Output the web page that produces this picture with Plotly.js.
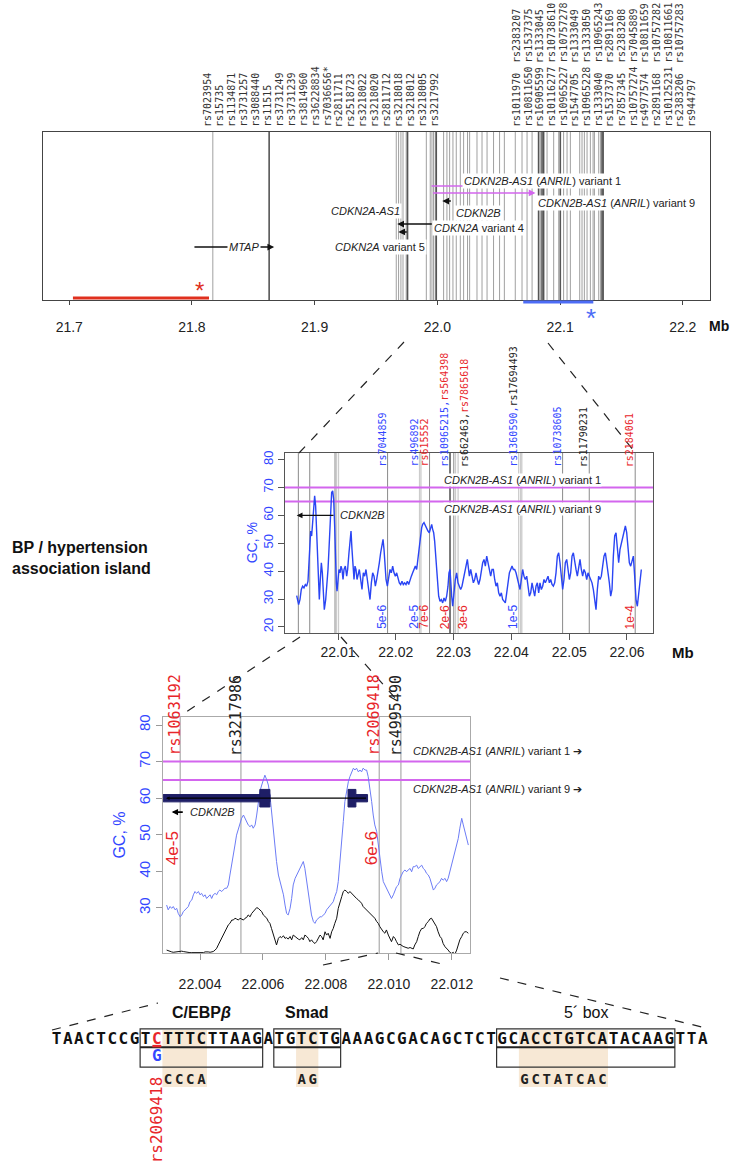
<!DOCTYPE html>
<html>
<head>
<meta charset="utf-8">
<script src="https://cdn.plot.ly/plotly-3.0.1.min.js"></script>
<style>
  html, body { margin: 0; padding: 0; background: #fff; }
  #plot { width: 733px; height: 1168px; }
</style>
</head>
<body>
<div id="plot"></div>
<script>
// ---------- data ----------
// top panel: SNP names (label list above the panel)
const topNamesLeft = ['rs7023954','rs15735','rs1134871','rs3731257','rs3088440','rs11515','rs3731249',
  'rs3731239','rs3814960','rs36228834','rs7036656*','rs2811711','rs2518723','rs3218022','rs3218020',
  'rs2811712','rs3218018','rs3218012','rs3218005','rs3217992'];
const topNamesRightLow = ['rs1011970','rs10811650','rs16905599','rs10116277','rs10965227','rs1547705',
  'rs10965228','rs1333040','rs1537370','rs7857345','rs10757274','rs4977574','rs2891168','rs10125231',
  'rs2383206','rs944797'];
const topNamesRightHigh = ['rs2383207','rs1537375','rs1333045','rs10738610','rs10757278','rs1333049',
  'rs1333050','rs10965243','rs2891169','rs2383208','rs7045889','rs10811659','rs10757282','rs10811661',
  'rs10757283'];

// top panel: SNP positions (Mb)
const topSnpThin = [21.8170, 21.9665, 21.9684, 21.9703, 21.9720, 21.9746, 21.9910, 21.9942, 21.9956,
  21.9969, 21.9983, 22.0051, 22.0078, 22.0100, 22.0127, 22.0154, 22.0187, 22.0214, 22.0246, 22.0263,
  22.0323, 22.0364, 22.0405, 22.0458, 22.0507, 22.0546, 22.0635, 22.0690, 22.0731, 22.0772, 22.0839,
  22.0894, 22.0948, 22.0989, 22.1029, 22.1057, 22.1084, 22.1160, 22.1179, 22.1198, 22.1220, 22.1247,
  22.1269, 22.1280, 22.1315, 22.1329];
const topSnpDark = [21.8629, 21.9757, 21.9991, 22.0825, 22.0853, 22.0866, 22.1002, 22.1342, 22.1351];

// top panel: genes
const geneStart  = [21.8008, 21.9673, 21.9682, 22.0040, 21.9952, 21.9952, 21.9640];
const geneEnd    = [21.8670, 21.9967, 21.9763, 22.0122, 22.0213, 22.0800, 21.9655];
const geneStrand = ['+', '-', '-', '-', '', '+', ''];
const geneRow    = [3.15, 4.52, 4.05, 5.89, 6.79, 6.37, 4.94];
const geneKind   = ['coding', 'coding', 'coding', 'coding', 'anril', 'anril', 'anril'];
const geneLabel  = ['<i>MTAP</i>', '<i>CDKN2A</i> variant 4', '<i>CDKN2A</i> variant 5', '<i>CDKN2B</i>',
  '<i>CDKN2B-AS1</i> (<i>ANRIL</i>) variant 1', '<i>CDKN2B-AS1</i> (<i>ANRIL</i>) variant 9', '<i>CDKN2A-AS1</i>'];
const geneLabelX = [21.8421, 22.0338, 21.9534, 22.0338, 22.0860, 22.1463, 21.9415];
const geneLabelY = [3.15, 4.29, 3.15, 5.18, 7.08, 5.77, 5.30];

// association regions
const redRegion  = [21.7030, 21.8139];
const blueRegion = [22.0700, 22.1271];

const topTicks = [21.7, 21.8, 21.9, 22.0, 22.1, 22.2];
const topTickText = ['21.7', '21.8', '21.9', '22.0', '22.1', '22.2'];

// middle panel: GC profile
const midX = [22.00285,22.00296,22.00319,22.00342,22.00365,22.00388,22.00411,22.00435,22.00458,22.00481,
  22.00498,22.00515,22.00527,22.00544,22.00562,22.00579,22.00596,22.00613,22.00631,22.00642,22.00660,
  22.00677,22.00694,22.00712,22.00729,22.00746,22.00763,22.00787,22.00810,22.00827,22.00844,22.00856,
  22.00873,22.00890,22.00908,22.00925,22.00942,22.00954,22.00971,22.00983,22.01000,22.01017,22.01035,
  22.01052,22.01069,22.01087,22.01104,22.01127,22.01150,22.01167,22.01190,22.01208,22.01225,22.01242,
  22.01260,22.01277,22.01294,22.01311,22.01329,22.01346,22.01369,22.01392,22.01415,22.01438,22.01461,
  22.01484,22.01508,22.01531,22.01554,22.01577,22.01600,22.01623,22.01646,22.01669,22.01692,22.01715,
  22.01738,22.01761,22.01779,22.01796,22.01813,22.01831,22.01854,22.01877,22.01900,22.01923,22.01946,
  22.01969,22.01992,22.02015,22.02038,22.02061,22.02084,22.02107,22.02130,22.02153,22.02176,22.02200,
  22.02223,22.02246,22.02269,22.02292,22.02315,22.02338,22.02361,22.02384,22.02407,22.02430,22.02448,
  22.02465,22.02488,22.02511,22.02534,22.02557,22.02580,22.02603,22.02621,22.02638,22.02655,22.02672,
  22.02690,22.02707,22.02724,22.02742,22.02765,22.02788,22.02811,22.02834,22.02857,22.02880,22.02903,
  22.02920,22.02938,22.02949,22.02967,22.02984,22.03007,22.03030,22.03053,22.03076,22.03099,22.03122,
  22.03145,22.03168,22.03191,22.03214,22.03238,
  22.03273,22.03296,22.03319,22.03342,22.03365,22.03388,22.03411,22.03434,22.03457,22.03480,22.03503,
  22.03526,22.03549,22.03573,22.03596,22.03619,22.03642,22.03665,22.03688,22.03711,22.03734,22.03757,
  22.03780,22.03803,22.03826,22.03849,22.03872,22.03895,22.03919,22.03942,22.03965,22.03988,22.04011,
  22.04034,22.04057,22.04080,22.04103,22.04126,22.04149,22.04172,22.04195,22.04218,22.04241,22.04265,
  22.04288,22.04311,22.04334,22.04357,22.04380,22.04403,22.04426,22.04449,22.04472,22.04495,22.04518,
  22.04541,22.04564,22.04587,22.04611,22.04634,22.04657,22.04680,22.04703,22.04726,22.04749,22.04772,
  22.04795,22.04818,22.04841,22.04864,22.04887,22.04910,22.04933,22.04957,22.04980,22.05003,22.05026,
  22.05049,22.05072,22.05095,22.05118,22.05141,22.05164,22.05187,22.05210,22.05233,22.05256,22.05280,
  22.05303,22.05326,22.05349,22.05372,22.05395,22.05418,22.05441,22.05464,22.05487,22.05510,22.05533,
  22.05556,22.05579,22.05602,22.05626,22.05649,22.05672,22.05695,22.05718,22.05741,22.05764,22.05787,
  22.05810,22.05833,22.05856,22.05879,22.05902,22.05925,22.05948,22.05972,22.05995,22.06018,22.06041,
  22.06064,22.06087,22.06110,22.06133,22.06156,22.06179,22.06202,22.06225,22.06248];
const midGC = [31.2,30.4,28.0,29.8,33.4,34.6,34.0,35.2,34.6,36.4,
  41.8,49.0,54.4,52.6,56.8,62.2,67.0,63.4,52.6,45.4,35.8,
  29.8,37.0,43.0,39.4,31.0,26.2,29.8,34.6,40.6,47.8,55.0,
  63.4,68.2,68.8,65.8,56.2,45.4,35.8,32.8,35.8,40.6,39.4,
  41.8,40.6,37.0,40.6,41.8,38.2,40.6,46.6,52.6,54.4,47.8,
  40.6,37.0,41.8,40.6,37.0,38.2,40.6,37.0,33.4,39.4,38.2,
  40.6,37.0,33.4,29.8,35.8,39.4,38.2,34.6,37.0,39.4,43.0,
  46.6,49.0,51.4,47.8,40.6,37.0,34.6,38.2,40.6,39.4,41.8,
  39.4,38.2,39.4,37.0,35.8,35.2,36.4,35.2,35.8,35.2,36.4,
  35.2,37.0,38.2,39.4,40.6,41.8,40.6,45.4,47.8,52.6,55.6,
  56.8,57.4,56.2,55.6,54.4,53.8,55.6,56.8,55.0,53.8,50.8,
  45.4,39.4,33.4,31.0,29.2,29.8,28.6,30.4,29.2,31.0,34.6,
  39.4,40.6,35.8,31.0,27.4,33.4,37.0,39.4,35.8,34.6,33.4,
  34.6,37.0,40.6,43.0,44.2,
  38.2,40.6,38.2,35.8,37.0,39.4,37.0,35.2,37.0,40.6,43.0,
  44.2,41.8,45.4,43.0,40.6,38.2,40.6,40.6,37.0,34.6,35.8,
  32.2,31.0,32.2,29.8,29.2,28.6,32.2,37.0,39.4,40.6,41.8,
  40.6,40.6,39.4,37.0,35.8,33.4,37.0,40.6,38.2,37.0,38.2,
  34.6,31.0,32.2,35.8,33.4,31.0,34.6,35.8,32.2,35.8,33.4,
  34.6,37.0,35.8,37.0,38.2,35.8,37.0,35.2,34.6,35.8,39.4,
  45.4,46.6,43.0,37.0,33.4,37.0,43.0,44.2,40.6,37.0,39.4,
  45.4,46.6,43.0,40.6,38.2,41.8,44.2,40.6,38.2,40.6,39.4,
  37.0,39.4,38.2,37.0,35.8,33.4,29.8,26.2,33.4,38.2,37.0,
  38.2,41.8,45.4,46.6,43.0,40.6,35.8,31.0,33.4,45.4,52.6,
  53.8,49.0,43.0,47.8,50.2,52.6,55.0,56.2,53.8,47.8,43.0,
  41.8,44.2,45.4,38.2,29.8,27.4,32.2,38.2,40.6];

// middle panel: SNPs
const midSnpDark  = [22.00314, 22.00511, 22.00948, 22.01858, 22.02584, 22.03003, 22.04886, 22.05347, 22.06142];
const midSnpBlack = [22.02938];
const midSnpLight = [22.00974, 22.01009, 22.02411, 22.02435, 22.03033, 22.03078, 22.04126, 22.04160, 22.04180];
const midLabelPos = [22.01858, 22.02411, 22.02584, 22.02938, 22.03078, 22.04126, 22.04886, 22.05347, 22.06142];
const midLabelText = ['rs7044859', 'rs496892', 'rs615552', 'rs10965215,rs564398', 'rs662463,rs7865618',
  'rs1360590,rs17694493', 'rs10738605', 'rs11790231', 'rs2184061'];
const midLabelColor = [['b'], ['b'], ['r'], ['b', 'r'], ['k', 'r'], ['b', 'k'], ['b'], ['k'], ['r']];
const midLabelSide = [-1, -1, -1, -1, 1, -1, -1, -1, -1];
const midPvPos   = [22.01858, 22.02411, 22.02584, 22.02938, 22.03078, 22.04126, 22.06142];
const midPv      = ['5e-6', '2e-5', '7e-6', '2e-6', '3e-6', '1e-5', '1e-4'];
const midPvColor = ['b', 'b', 'r', 'r', 'r', 'b', 'r'];
const midPvSide  = [-1, -1, -1, -1, 1, -1, -1];
const anrilLevels = [70, 65];
const midCdkn2b = [22.00948, 22.00285];   // tail, head
const midTicks = [22.01, 22.02, 22.03, 22.04, 22.05, 22.06];
const gcTicksMid = [20, 30, 40, 50, 60, 70, 80];

// bottom panel: GC (blue) and second profile (black)
const botX = [22.00294,22.00299,22.00305,22.00310,22.00315,22.00321,22.00326,22.00331,22.00337,22.00342,
  22.00347,22.00352,22.00358,22.00363,22.00368,22.00374,22.00379,22.00384,22.00389,22.00395,22.00400,
  22.00405,22.00411,22.00416,22.00421,22.00426,22.00432,22.00437,22.00442,22.00448,22.00453,22.00458,
  22.00463,22.00469,22.00474,22.00479,22.00485,22.00490,22.00495,22.00501,22.00506,22.00511,22.00516,
  22.00522,22.00527,22.00532,22.00538,22.00543,22.00548,22.00553,22.00559,22.00564,22.00569,22.00575,
  22.00580,22.00585,22.00590,22.00596,22.00601,22.00606,22.00612,22.00617,22.00622,22.00627,22.00633,
  22.00638,22.00643,22.00649,22.00654,22.00659,22.00665,22.00670,22.00675,22.00680,22.00686,22.00691,
  22.00696,22.00702,22.00707,22.00712,22.00717,22.00723,22.00728,22.00733,22.00739,22.00744,22.00749,
  22.00754,22.00760,22.00765,22.00770,22.00776,22.00781,
  22.00786,22.00791,22.00797,22.00802,22.00807,22.00813,22.00818,22.00823,22.00828,22.00834,22.00839,
  22.00844,22.00850,22.00855,22.00860,22.00866,22.00871,22.00876,22.00881,22.00887,22.00892,22.00897,
  22.00903,22.00908,22.00913,22.00918,22.00924,22.00929,22.00934,22.00940,22.00945,22.00950,22.00955,
  22.00961,22.00966,22.00971,22.00977,22.00982,22.00987,22.00992,22.00998,22.01003,22.01008,22.01014,
  22.01019,22.01024,22.01030,22.01035,22.01040,22.01045,22.01051,22.01056,22.01061,22.01067,22.01072,
  22.01077,22.01082,22.01088,22.01093,22.01098,22.01104,22.01109,22.01114,22.01119,22.01125,22.01130,
  22.01135,22.01141,22.01146,22.01151,22.01156,22.01162,22.01167,22.01172,22.01178,22.01183,22.01188,
  22.01193,22.01199,22.01204,22.01209,22.01215,22.01220,22.01225,22.01231,22.01236,22.01241,22.01246,
  22.01252];
const botBlue = [30.8,29.5,30.4,29.9,30.4,29.5,29.9,28.5,27.6,28.1,
  29.0,29.5,29.9,30.4,31.7,32.2,33.6,34.5,34.0,34.5,33.6,
  34.0,33.1,33.6,32.6,33.1,33.6,32.6,33.6,34.0,33.6,34.5,
  34.9,34.5,34.9,35.4,35.4,36.3,39.0,41.7,44.5,47.2,49.9,
  51.8,53.6,54.5,55.4,54.5,53.6,52.7,52.2,52.7,51.8,52.7,
  55.4,59.1,61.8,63.6,65.0,66.3,65.0,63.6,60.9,56.3,50.9,
  46.3,42.7,39.0,37.2,35.4,33.6,30.8,28.5,28.1,29.9,32.6,
  36.3,38.1,39.0,39.9,40.8,41.7,42.7,40.8,37.2,33.6,30.8,
  28.1,26.3,25.8,26.7,27.2,27.6,
  27.6,28.1,28.5,29.5,30.1,30.8,31.3,31.7,33.1,34.5,37.2,
  41.7,48.1,53.6,59.1,62.7,64.5,65.9,66.8,68.2,67.7,68.2,
  67.2,67.7,67.2,68.2,67.7,67.7,65.9,62.7,59.1,55.4,52.7,
  50.9,47.2,43.6,39.9,37.2,36.3,35.4,34.5,33.6,32.6,33.6,
  34.5,35.8,36.3,38.1,39.0,39.9,40.4,39.9,40.4,40.8,39.9,
  41.3,41.3,41.7,40.8,41.3,41.7,40.8,40.4,39.5,39.0,38.1,
  36.3,34.9,35.4,36.3,36.7,37.2,38.1,37.6,38.1,37.2,38.1,
  39.9,41.7,43.6,45.4,47.2,49.0,51.8,54.5,52.7,50.9,49.0,
  47.2];
const botBlack = [18.5,18.3,18.1,18.0,17.9,18.0,18.1,18.2,18.3,18.2,
  18.1,18.0,17.9,17.9,17.8,17.8,17.8,17.9,17.9,17.8,17.7,
  17.8,17.8,18.0,18.1,18.0,17.9,18.0,18.1,18.5,19.0,19.9,
  20.8,21.7,22.6,23.5,24.4,25.4,25.8,26.7,26.7,27.2,27.0,
  26.7,27.2,27.0,26.7,27.2,27.4,28.1,27.6,28.5,29.0,29.7,
  30.1,29.9,29.5,29.0,28.1,27.6,27.2,26.3,25.8,24.4,22.6,
  20.8,19.9,21.7,22.2,21.9,22.4,21.7,21.9,21.5,22.2,21.3,
  22.6,22.2,21.7,21.5,21.3,21.9,21.3,22.6,22.2,21.7,20.8,
  21.3,20.6,20.3,20.8,21.7,22.6,
  22.2,21.3,23.5,22.6,23.1,21.7,23.5,24.4,25.8,27.2,29.9,
  31.7,33.1,34.5,34.9,34.5,34.0,34.5,34.0,33.6,33.1,32.6,
  32.2,31.7,31.3,30.4,29.9,29.5,29.0,28.5,28.1,27.6,27.2,
  26.3,25.8,24.9,24.0,23.5,23.1,24.0,22.6,21.7,20.8,22.2,
  21.7,20.8,19.9,20.1,19.7,19.5,19.3,19.2,19.0,19.2,19.0,
  18.8,19.9,20.8,22.2,23.5,24.4,24.4,24.9,25.8,26.3,27.0,
  27.2,26.3,25.8,24.9,23.5,22.2,21.7,20.3,19.4,19.0,18.5,
  17.9,17.6,17.9,17.3,18.5,19.9,21.3,22.2,23.1,23.5,23.5,
  23.1];

const botSnpPos   = [22.00337, 22.00530, 22.00969, 22.01038];
const botSnpName  = ['rs1063192', 'rs3217986', 'rs2069418', 'rs4995490'];
const botSnpColor = ['r', 'k', 'r', 'k'];
const botPvPos = [22.00337, 22.00969];
const botPv    = ['4e-5', '6e-6'];
// CDKN2B gene model in bottom panel
const exonStart = [22.00283, 22.00590, 22.00870, 22.00895];
const exonEnd   = [22.00622, 22.00622, 22.00895, 22.00932];
const exonType  = ['utr', 'cds', 'cds', 'utr'];
const cdkn2bSpan = [22.00932, 22.00292];   // tail, head (minus strand)
const botTicks = [22.004, 22.006, 22.008, 22.010, 22.012];
const botTickText = ['22.004', '22.006', '22.008', '22.010', '22.012'];
const gcTicksBot = [30, 40, 50, 60, 70, 80];

// sequence row
const seqText = 'TAACTCCGTCTTTCTTAAGATGTCTGAAAGCGACAGCTCTGCACCTGTCATACAAGTTA';
const motifName  = ['<b>C/EBP<i>β</i></b>', '<b>Smad</b>', '5´ box'];
const motifStart = [8, 20, 40];
const motifEnd   = [18, 25, 55];
const shadeStart = [10, 22, 42];
const shadeEnd   = [13, 23, 49];
const altSeq     = ['CCCA', 'AG', 'GCTATCAC'];
const seqSnpIndex = 9;
const seqSnpAlt = 'G';
const seqSnpName = 'rs2069418';

// ---------- drawing ----------
const W = 733, H = 1168;
const px = v => v / W;
const py = v => 1 - v / H;
const SANS = '"Liberation Sans", Arial, Helvetica, sans-serif';
const MONO = '"DejaVu Sans Mono", "Liberation Mono", monospace';
const COL = { b: '#3347ff', r: '#e8262b', k: '#222222' };
const MAGENTA = '#d366ee';

function vlines(xs, y0, y1) {
  const x = [], y = [];
  xs.forEach(v => { x.push(v, v, null); y.push(y0, y1, null); });
  return { x, y };
}

const traces = [];
const annotations = [];
const shapes = [];

// --- top panel ---
[[topSnpThin, '#a0a0a0', 1], [topSnpDark, '#555555', 1.6]].forEach(([arr, c, w]) => {
  const l = vlines(arr, 0, 10);
  traces.push({ x: l.x, y: l.y, xaxis: 'x', yaxis: 'y', mode: 'lines', line: { color: c, width: w } });
});
traces.push({ x: redRegion, y: [0.12, 0.12], xaxis: 'x', yaxis: 'y', mode: 'lines', line: { color: '#e0301e', width: 3 } });
// the blue region sits just under the axis, on a helper y axis
traces.push({ x: blueRegion, y: [0.7, 0.7], xaxis: 'x', yaxis: 'y5', mode: 'lines', line: { color: '#4d6cf6', width: 3 } });
annotations.push({ x: redRegion[1] - 0.008, y: 0.55, xref: 'x', yref: 'y', text: '*', showarrow: false,
  font: { size: 24, color: '#e0301e', family: SANS } });
annotations.push({ x: blueRegion[1] - 0.002, y: 0.3, xref: 'x', yref: 'y5', text: '*', showarrow: false,
  font: { size: 26, color: '#4d6cf6', family: SANS } });

geneStart.forEach((s, i) => {
  const color = geneKind[i] === 'anril' ? MAGENTA : '#111';
  if (geneStrand[i] === '') {
    traces.push({ x: [s, geneEnd[i]], y: [geneRow[i], geneRow[i]], xaxis: 'x', yaxis: 'y', mode: 'lines',
      line: { color, width: 1.5 } });
  } else {
    const head = geneStrand[i] === '+' ? geneEnd[i] : s;
    const tail = geneStrand[i] === '+' ? s : geneEnd[i];
    annotations.push({ x: head, y: geneRow[i], ax: tail, ay: geneRow[i], xref: 'x', yref: 'y', axref: 'x', ayref: 'y',
      text: '', showarrow: true, arrowhead: 2, arrowsize: 0.9, arrowwidth: 1.5, arrowcolor: color, standoff: 0, startstandoff: 0 });
  }
});
geneLabel.forEach((t, i) => {
  annotations.push({ x: geneLabelX[i], y: geneLabelY[i], xref: 'x', yref: 'y', text: t, showarrow: false,
    bgcolor: '#ffffff', borderpad: 1, font: { size: 11, family: SANS, color: '#222' } });
});

// SNP name list above the top panel
const nameFont = { size: 10, family: MONO, color: '#333' };
topNamesLeft.forEach((n, i) => annotations.push({ x: px(207 + i * 11.95), y: py(128), xref: 'paper', yref: 'paper',
  text: n, textangle: -90, xanchor: 'center', yanchor: 'bottom', showarrow: false, borderpad: 0, font: nameFont }));
topNamesRightLow.forEach((n, i) => annotations.push({ x: px(516 + i * 11.67), y: py(128), xref: 'paper', yref: 'paper',
  text: n, textangle: -90, xanchor: 'center', yanchor: 'bottom', showarrow: false, borderpad: 0, font: nameFont }));
topNamesRightHigh.forEach((n, i) => annotations.push({ x: px(516 + i * 11.67), y: py(64), xref: 'paper', yref: 'paper',
  text: n, textangle: -90, xanchor: 'center', yanchor: 'bottom', showarrow: false, borderpad: 0, font: nameFont }));

// --- middle panel ---
[[midSnpLight, '#cccccc', 1.3], [midSnpDark, '#8a8a8a', 1], [midSnpBlack, '#222', 1.2]].forEach(([arr, c, w]) => {
  const l = vlines(arr, 17.8, 82.4);
  traces.push({ x: l.x, y: l.y, xaxis: 'x2', yaxis: 'y2', mode: 'lines', line: { color: c, width: w } });
});
anrilLevels.forEach(v => traces.push({ x: [22.00083, 22.06450], y: [v, v], xaxis: 'x2', yaxis: 'y2', mode: 'lines',
  line: { color: MAGENTA, width: 2 } }));
traces.push({ x: midX, y: midGC, xaxis: 'x2', yaxis: 'y2', mode: 'lines', line: { color: '#2a45f4', width: 1.4 } });
annotations.push({ x: midCdkn2b[1], y: 60, ax: midCdkn2b[0], ay: 60, xref: 'x2', yref: 'y2', axref: 'x2', ayref: 'y2',
  text: '', showarrow: true, arrowhead: 2, arrowsize: 0.9, arrowwidth: 1.3, arrowcolor: '#111', standoff: 0 });
annotations.push({ x: 22.0142, y: 60, xref: 'x2', yref: 'y2', text: '<i>CDKN2B</i>', showarrow: false,
  font: { size: 11, family: SANS, color: '#222' } });
annotations.push({ x: 22.0420, y: 72.7, xref: 'x2', yref: 'y2', text: '<i>CDKN2B-AS1</i> (<i>ANRIL</i>) variant 1',
  showarrow: false, bgcolor: '#fff', borderpad: 0, font: { size: 11, family: SANS, color: '#222' } });
annotations.push({ x: 22.0420, y: 62.3, xref: 'x2', yref: 'y2', text: '<i>CDKN2B-AS1</i> (<i>ANRIL</i>) variant 9',
  showarrow: false, bgcolor: '#fff', borderpad: 0, font: { size: 11, family: SANS, color: '#222' } });
midLabelPos.forEach((p, i) => {
  const parts = midLabelText[i].split(',');
  const html = parts.map((s, k) => `<span style="color:${COL[midLabelColor[i][k]]}">${s}${k < parts.length - 1 ? ',' : ''}</span>`).join('');
  annotations.push({ x: p, y: 77, xref: 'x2', yref: 'y2', text: html, textangle: -90, xanchor: 'center', yanchor: 'bottom',
    xshift: 6 * midLabelSide[i], showarrow: false, borderpad: 0, font: { size: 10, family: MONO } });
});
midPvPos.forEach((p, i) => annotations.push({ x: p, y: 18.8, xref: 'x2', yref: 'y2', text: midPv[i], textangle: -90,
  xanchor: 'center', yanchor: 'bottom', xshift: 5 * midPvSide[i], showarrow: false, borderpad: 0,
  font: { size: 12, family: SANS, color: COL[midPvColor[i]] } }));
annotations.push({ x: px(252), y: 50, xref: 'paper', yref: 'y2', text: 'GC, %', textangle: -90, showarrow: false,
  font: { size: 14, family: SANS, color: COL.b } });

// --- bottom panel ---
{
  const l = vlines(botSnpPos, 17.7, 82.19);
  traces.push({ x: l.x, y: l.y, xaxis: 'x3', yaxis: 'y3', mode: 'lines', line: { color: '#9a9a9a', width: 1 } });
}
anrilLevels.forEach(v => traces.push({ x: [22.002825, 22.012573], y: [v, v], xaxis: 'x3', yaxis: 'y3', mode: 'lines',
  line: { color: MAGENTA, width: 2 } }));
traces.push({ x: botX, y: botBlack, xaxis: 'x3', yaxis: 'y3', mode: 'lines', line: { color: '#111', width: 1 } });
traces.push({ x: botX, y: botBlue, xaxis: 'x3', yaxis: 'y3', mode: 'lines', line: { color: '#6c7cf6', width: 1 } });
exonStart.forEach((s, i) => {
  const h = exonType[i] === 'cds' ? 2.4 : 1.0;
  shapes.push({ type: 'rect', xref: 'x3', yref: 'y3', x0: s, x1: exonEnd[i], y0: 60 - h, y1: 60 + h,
    fillcolor: '#1e1e66', line: { color: '#1e1e66', width: 1 } });
});
annotations.push({ x: cdkn2bSpan[1], y: 60, ax: cdkn2bSpan[0], ay: 60, xref: 'x3', yref: 'y3', axref: 'x3', ayref: 'y3',
  text: '', showarrow: true, arrowhead: 2, arrowsize: 0.6, arrowwidth: 1.2, arrowcolor: '#000', standoff: 0 });
annotations.push({ x: 22.00310, y: 56.2, ax: 22.00350, ay: 56.2, xref: 'x3', yref: 'y3', axref: 'x3', ayref: 'y3',
  text: '', showarrow: true, arrowhead: 2, arrowsize: 0.8, arrowwidth: 1.6, arrowcolor: '#000', standoff: 0 });
annotations.push({ x: 22.00440, y: 56.2, xref: 'x3', yref: 'y3', text: '<i>CDKN2B</i>', showarrow: false,
  font: { size: 11, family: SANS, color: '#222' } });
botSnpPos.forEach((p, i) => annotations.push({ x: p, y: 71.3, xref: 'x3', yref: 'y3', text: botSnpName[i], textangle: -90,
  xanchor: 'center', yanchor: 'bottom', xshift: -5, showarrow: false, borderpad: 0,
  font: { size: 15, family: MONO, color: COL[botSnpColor[i]] } }));
botPvPos.forEach((p, i) => annotations.push({ x: p, y: 46.4, xref: 'x3', yref: 'y3', text: botPv[i], textangle: -90,
  xanchor: 'center', yanchor: 'middle', xshift: -7, showarrow: false, borderpad: 0,
  font: { size: 17, family: SANS, color: COL.r } }));
annotations.push({ x: px(411), y: 72.8, xref: 'paper', yref: 'y3', xanchor: 'left', showarrow: false,
  text: '<i>CDKN2B-AS1</i> (<i>ANRIL</i>) variant 1 ➔', font: { size: 11, family: SANS, color: '#222' } });
annotations.push({ x: px(411), y: 62.4, xref: 'paper', yref: 'y3', xanchor: 'left', showarrow: false,
  text: '<i>CDKN2B-AS1</i> (<i>ANRIL</i>) variant 9 ➔', font: { size: 11, family: SANS, color: '#222' } });

// --- sequence row ---
const seqChars = seqText.split('');
const seqIdx = seqChars.map((c, i) => i);
motifStart.forEach((s, i) => {
  shapes.push({ type: 'rect', xref: 'x4', yref: 'y4', x0: shadeStart[i] - 0.5, x1: shadeEnd[i] + 0.5, y0: -2.76, y1: 0.59,
    fillcolor: '#f7e8d5', line: { width: 0 }, layer: 'below' });
  shapes.push({ type: 'rect', xref: 'x4', yref: 'y4', x0: s - 0.5, x1: motifEnd[i] + 0.5, y0: -1.59, y1: 0.65,
    line: { color: '#333', width: 1.2 } });
  shapes.push({ type: 'line', xref: 'x4', yref: 'y4', x0: s - 0.5, x1: motifEnd[i] + 0.5, y0: -0.42, y1: -0.42,
    line: { color: '#222', width: 2 } });
  annotations.push({ x: (s + motifEnd[i]) / 2, y: 1.6, xref: 'x4', yref: 'y4', text: motifName[i], showarrow: false,
    font: { size: 16, family: SANS, color: '#111' } });
  const alt = altSeq[i].split('');
  traces.push({ x: alt.map((c, k) => shadeStart[i] + k), y: alt.map(() => -2.41), xaxis: 'x4', yaxis: 'y4',
    mode: 'text', text: alt, textfont: { size: 14, family: MONO, color: '#222', weight: 'bold' } });
});
shapes.push({ type: 'line', xref: 'x4', yref: 'y4', x0: seqSnpIndex - 0.4, x1: seqSnpIndex + 0.4, y0: -0.36, y1: -0.36,
  line: { color: COL.r, width: 2.5 } });
traces.push({ x: seqIdx, y: seqIdx.map(() => 0), xaxis: 'x4', yaxis: 'y4', mode: 'text', text: seqChars,
  textfont: { size: 16, family: MONO, weight: 'bold', color: seqChars.map((c, i) => i === seqSnpIndex ? COL.r : '#111') } });
traces.push({ x: [seqSnpIndex], y: [-1.0], xaxis: 'x4', yaxis: 'y4', mode: 'text', text: [seqSnpAlt],
  textfont: { size: 16, family: MONO, weight: 'bold', color: COL.b } });
annotations.push({ x: seqSnpIndex, y: -2.06, xref: 'x4', yref: 'y4', text: seqSnpName, textangle: -90,
  xanchor: 'center', yanchor: 'top', showarrow: false, borderpad: 0, font: { size: 16, family: MONO, color: COL.r } });

// --- free text and connectors ---
annotations.push({ x: px(10), y: py(558), xref: 'paper', yref: 'paper', xanchor: 'left', align: 'left', showarrow: false,
  text: '<b>BP / hypertension<br>association island</b>', font: { size: 16, family: SANS, color: '#111' } });
annotations.push({ x: px(730), y: py(326), xref: 'paper', yref: 'paper', xanchor: 'right', yanchor: 'middle', text: '<b>Mb</b>',
  showarrow: false, borderpad: 0, font: { size: 14, family: SANS, color: '#111' } });
annotations.push({ x: px(670), y: py(652), xref: 'paper', yref: 'paper', xanchor: 'left', text: '<b>Mb</b>', showarrow: false,
  font: { size: 15, family: SANS, color: '#111' } });
[[404, 342, 299, 453], [548, 343, 637, 455], [300, 637, 180, 716], [341, 637, 397, 700],
 [52, 1030, 158, 1003], [500, 978, 706, 1028], [323, 965, 378, 953], [396, 953, 446, 965]].forEach(s => {
  shapes.push({ type: 'line', xref: 'paper', yref: 'paper', x0: px(s[0]), y0: py(s[1]), x1: px(s[2]), y1: py(s[3]),
    line: { color: '#222', width: 1.2, dash: 'dash' } });
});

traces.forEach(t => { t.showlegend = false; t.hoverinfo = 'skip'; });

const baseAxis = { showgrid: false, zeroline: false, showline: true, mirror: true };
const layout = {
  width: W, height: H,
  margin: { l: 0, r: 0, t: 0, b: 0 },
  paper_bgcolor: '#fff', plot_bgcolor: 'rgba(0,0,0,0)',
  showlegend: false,
  font: { family: SANS, color: '#222' },
  xaxis: Object.assign({}, baseAxis, { domain: [px(43), px(710)], range: [21.6786, 22.2222], anchor: 'y',
    tickvals: topTicks, ticktext: topTickText, ticks: 'outside', ticklen: 4, tickcolor: '#444', linecolor: '#444',
    tickfont: { size: 14, color: '#222' }, ticklabelstandoff: 10 }),
  yaxis: Object.assign({}, baseAxis, { domain: [py(300), py(132)], range: [0, 10], anchor: 'x', linecolor: '#444',
    showticklabels: false, ticks: '' }),
  yaxis5: { domain: [py(330), py(290)], range: [0, 1], anchor: 'x', visible: false, fixedrange: true },
  xaxis2: Object.assign({}, baseAxis, { domain: [px(285), px(653)], range: [22.00083, 22.06450], anchor: 'y2',
    tickvals: midTicks, ticktext: midTicks.map(String), ticks: 'outside', ticklen: 6, tickcolor: '#555', linecolor: '#555',
    tickfont: { size: 14, color: '#222' }, ticklabelstandoff: 0 }),
  yaxis2: Object.assign({}, baseAxis, { domain: [py(633), py(453)], range: [17.8, 82.4], anchor: 'x2',
    tickvals: gcTicksMid, ticks: 'outside', ticklen: 6, tickcolor: '#555', linecolor: '#555', tickangle: -90,
    tickfont: { size: 13, color: COL.b } }),
  xaxis3: Object.assign({}, baseAxis, { domain: [px(163), px(470)], range: [22.002825, 22.012573], anchor: 'y3',
    tickvals: botTicks, ticktext: botTickText, ticks: 'outside', ticklen: 6, tickcolor: '#999', linecolor: '#aaa',
    tickfont: { size: 14, color: '#222' }, ticklabelstandoff: 12 }),
  yaxis3: Object.assign({}, baseAxis, { domain: [py(953), py(717)], range: [17.7, 82.19], anchor: 'x3',
    tickvals: gcTicksBot, ticks: 'outside', ticklen: 6, tickcolor: '#999', linecolor: '#aaa', tickangle: -90,
    tickfont: { size: 15, color: COL.b }, title: { text: 'GC, %', font: { size: 16, color: COL.b }, standoff: 6 } }),
  xaxis4: { domain: [0, 1], range: [-5.078, 60.72], anchor: 'y4', visible: false, fixedrange: true },
  yaxis4: { domain: [0, py(995)], range: [-7.53, 2.647], anchor: 'x4', visible: false, fixedrange: true },
  annotations, shapes
};

Plotly.newPlot('plot', traces, layout, { staticPlot: true, displayModeBar: false });
</script>
</body>
</html>
